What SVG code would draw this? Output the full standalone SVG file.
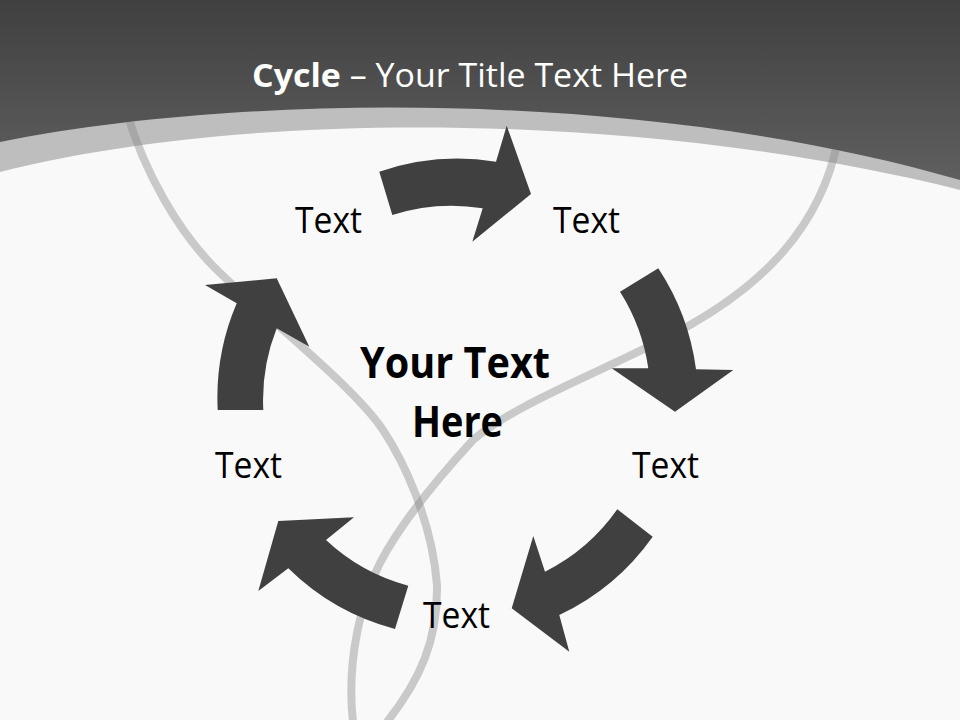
<svg xmlns="http://www.w3.org/2000/svg" width="960" height="720" viewBox="0 0 960 720">
  <defs>
    <linearGradient id="hdr" x1="0" y1="0" x2="0" y2="1" gradientUnits="objectBoundingBox">
      <stop offset="0" stop-color="#404040"/>
      <stop offset="1" stop-color="#5f5f5f"/>
    </linearGradient>
    <clipPath id="below">
      <path d="M0,142 C250,92 650,90 960,180 V720 H0 Z"/>
    </clipPath>
  </defs>
  <style>
    .arrow { fill: #404040; }
    .swoosh { fill: none; stroke: #888888; stroke-opacity: 0.42; stroke-width: 8; stroke-linecap: round; }
    .lbl { font-family: "Open Sans", "Noto Sans", sans-serif; font-size: 37px; fill: #000000; }
    .center { font-family: "Open Sans", "Noto Sans", sans-serif; font-size: 43px; font-weight: bold; fill: #000000; }
    .title { font-family: "Open Sans", "Noto Sans", sans-serif; font-size: 32px; fill: #ffffff; }
  </style>

  <!-- background -->
  <rect x="0" y="0" width="960" height="720" fill="#f9f9f9"/>
  <path d="M0,0 H960 V190 C650,112 250,108 0,172 Z" fill="#bebebe"/>
  <path d="M0,0 H960 V180 C650,90 250,92 0,142 Z" fill="url(#hdr)"/>

  <!-- decorative swooshes -->
  <g id="swooshes" clip-path="url(#below)">
    <path class="swoosh" d="M126,110 C145,175 180,233 215,268 C260,313 353,385 383,430 C403,460 432,520 437,585 C438,640 420,680 387,722"/>
    <path class="swoosh" d="M838,140 C820,230 760,285 690,325 C620,365 520,400 473,440 C450,465 405,515 380,563 C362,598 346,660 353,722"/>
  </g>

  <!-- title -->
  <g id="title">
    <text class="title" x="252" y="87" textLength="436" lengthAdjust="spacingAndGlyphs"><tspan font-weight="bold">Cycle</tspan> – Your Title Text Here</text>
  </g>

  <!-- connectors: curved cycle arrows -->
  <g id="connectors">
    <path class="arrow" d="M379.3,171.7 A241 241 0 0 1 496,161.7 L506.7,125.7 L531,194 L472.3,241.7 L482.7,208.3 A195 195 0 0 0 392.3,215 Z"/>
    <path class="arrow" d="M658.3,268.3 A241 241 0 0 1 696,369.3 L733.3,370 L675,411.7 L611.7,368.3 L648.3,368.3 A195 195 0 0 0 620,291.7 Z"/>
    <path class="arrow" d="M652.7,536.7 A240 240 0 0 1 559.3,615 L569.3,651.7 L511.7,608.3 L533.3,536 L545,571.7 A195 195 0 0 0 617.3,509.3 Z"/>
    <path class="arrow" d="M395,629 A239 239 0 0 1 288.3,568.3 L258.3,591 L278.3,521 L354,517.3 L326,540 A193 193 0 0 0 408.3,585.7 Z"/>
    <path class="arrow" d="M217.7,410 A240 240 0 0 1 236.7,303.3 L205,285 L276.7,278.3 L309.3,346.7 L276.7,328.3 A195 195 0 0 0 263.3,410 Z"/>
  </g>

  <!-- nodes -->
  <g id="center">
    <text class="center" x="360" y="378" textLength="190" lengthAdjust="spacingAndGlyphs">Your Text</text>
    <text class="center" x="412" y="437" textLength="91" lengthAdjust="spacingAndGlyphs">Here</text>
  </g>
  <g id="node-top-left">
    <text class="lbl" x="295" y="233" textLength="67" lengthAdjust="spacingAndGlyphs">Text</text>
  </g>
  <g id="node-top-right">
    <text class="lbl" x="553" y="233" textLength="67" lengthAdjust="spacingAndGlyphs">Text</text>
  </g>
  <g id="node-right">
    <text class="lbl" x="632" y="478" textLength="67" lengthAdjust="spacingAndGlyphs">Text</text>
  </g>
  <g id="node-bottom">
    <text class="lbl" x="423" y="628" textLength="67" lengthAdjust="spacingAndGlyphs">Text</text>
  </g>
  <g id="node-left">
    <text class="lbl" x="215" y="478" textLength="67" lengthAdjust="spacingAndGlyphs">Text</text>
  </g>
</svg>
